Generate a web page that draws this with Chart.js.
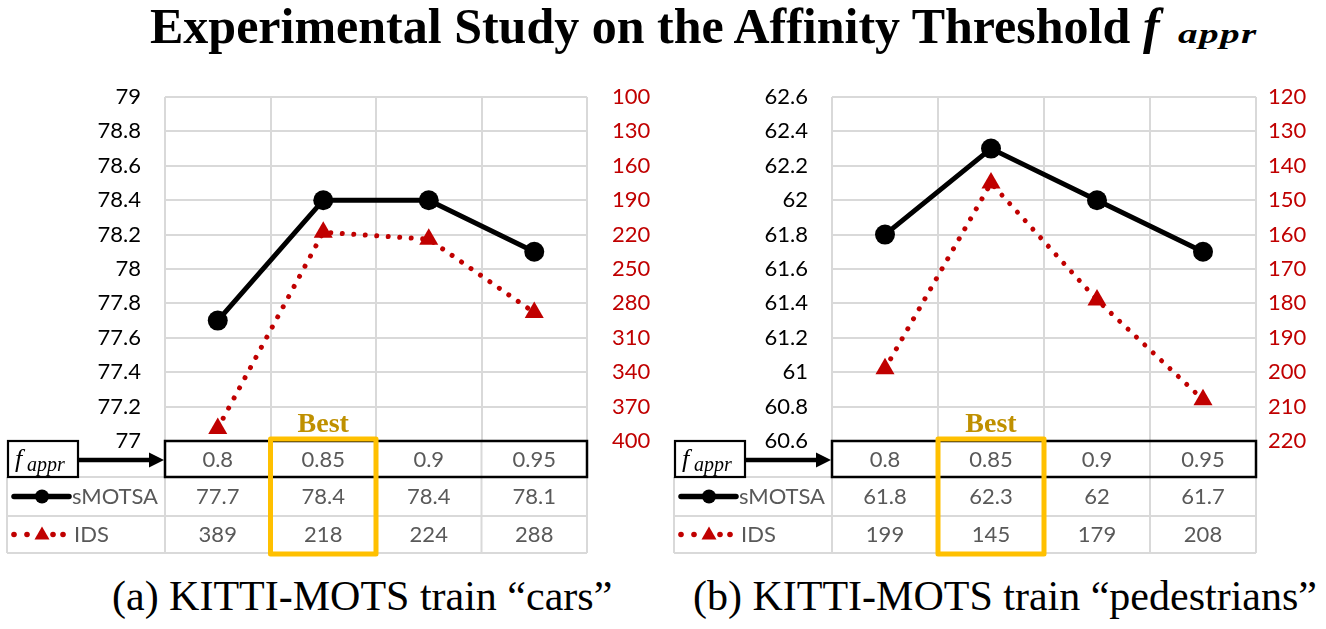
<!DOCTYPE html>
<html>
<head>
<meta charset="utf-8">
<script src="https://cdn.jsdelivr.net/npm/chart.js@4.4.1/dist/chart.umd.min.js"></script>
<style>
  html, body { margin: 0; padding: 0; background: #fff; }
  body { width: 1326px; height: 629px; position: relative; overflow: hidden; }
  canvas { position: absolute; }
  .t { position: absolute; white-space: nowrap; font-family: 'Liberation Serif', 'Times New Roman', serif;
       font-weight: bold; color: #000; }
  #title { left: 150px; top: 1px; font-size: 50px; line-height: 50px; }
  #tf { left: 1143px; top: 1px; font-size: 50px; line-height: 50px; font-style: italic; }
  #tsub { left: 1178px; top: 9px; font-size: 27px; line-height: 50px; font-style: italic; letter-spacing: 1px;
          transform: scaleX(1.45); transform-origin: 0 0; }
  .cap { position: absolute; top: 573px; white-space: nowrap;
         font-family: 'Liberation Serif', 'Times New Roman', serif; font-size: 42px; line-height: 46px; color: #000; }
</style>
</head>
<body>
<div id="title" class="t">Experimental Study on the Affinity Threshold</div>
<div id="tf" class="t">f</div>
<div id="tsub" class="t">appr</div>
<canvas id="c1" width="660" height="480" style="left:0px;top:80px"></canvas>
<canvas id="c2" width="666" height="480" style="left:660px;top:80px"></canvas>
<div class="cap" style="left:112px">(a) KITTI-MOTS train “cars”</div>
<div class="cap" style="left:693px">(b) KITTI-MOTS train “pedestrians”</div>
<script>
const categories = ['0.8', '0.85', '0.9', '0.95'];
const carsSMOTSA = [77.7, 78.4, 78.4, 78.1];
const carsIDS = [389, 218, 224, 288];
const pedSMOTSA = [61.8, 62.3, 62, 61.7];
const pedIDS = [199, 145, 179, 208];
const carsLeftTicks = [77, 77.2, 77.4, 77.6, 77.8, 78, 78.2, 78.4, 78.6, 78.8, 79];
const carsRightTicks = [100, 130, 160, 190, 220, 250, 280, 310, 340, 370, 400];
const pedLeftTicks = [60.6, 60.8, 61, 61.2, 61.4, 61.6, 61.8, 62, 62.2, 62.4, 62.6];
const pedRightTicks = [120, 130, 140, 150, 160, 170, 180, 190, 200, 210, 220];
const seriesNames = ['sMOTSA', 'IDS'];
const bestIndex = 1;

const RED = '#C00000';
const GRID = '#d9d9d9';
const GRAYTXT = '#595959';
const SANS = "Lato, 'Liberation Sans', sans-serif";
const SERIF = "'Liberation Serif', 'Times New Roman', serif";

function line(ctx, x0, y0, x1, y1) { ctx.beginPath(); ctx.moveTo(x0, y0); ctx.lineTo(x1, y1); ctx.stroke(); }

const tablePlugin = {
  id: 'dataTable',
  afterDraw(chart) {
    const ctx = chart.ctx, xs = chart.scales.x, a = chart.chartArea;
    const n = chart.data.labels.length;
    const step = xs.getPixelForValue(1) - xs.getPixelForValue(0);
    const bounds = [];
    for (let i = 0; i <= n; i++) bounds.push(xs.getPixelForValue(0) - step / 2 + i * step);
    const top = a.bottom, r1 = top + 36, r2 = r1 + 39, r3 = r2 + 37;
    const colL = a.left - 158;
    ctx.save();
    // gray table lines
    ctx.strokeStyle = GRID; ctx.lineWidth = 2;
    bounds.forEach(b => line(ctx, b, top, b, r3));
    line(ctx, colL, r1, colL, r3);
    [r1, r2, r3].forEach(y => line(ctx, colL, y, a.right, y));
    // black box around first row
    ctx.strokeStyle = '#000'; ctx.lineWidth = 2.5;
    ctx.strokeRect(a.left, top, a.right - a.left, r1 - top);
    // f_appr box
    ctx.lineWidth = 2.2;
    const fbR = colL + 71;
    ctx.strokeRect(colL + 1, top, 70, r1 - top);
    ctx.fillStyle = '#000';
    ctx.textAlign = 'left'; ctx.textBaseline = 'alphabetic';
    ctx.font = 'italic 26px ' + SERIF;
    ctx.fillText('f', colL + 8, top + 26);
    ctx.font = 'italic 20px ' + SERIF;
    ctx.fillText('appr', colL + 20, top + 30);
    // arrow
    const ym = (top + r1) / 2 + 1;
    ctx.lineWidth = 4.5;
    line(ctx, fbR, ym, a.left - 12, ym);
    ctx.beginPath(); ctx.moveTo(a.left - 16, ym - 7.5); ctx.lineTo(a.left - 1, ym); ctx.lineTo(a.left - 16, ym + 7.5); ctx.closePath(); ctx.fill();
    // legend entries
    const y2 = (r1 + r2) / 2, y3 = (r2 + r3) / 2;
    ctx.strokeStyle = '#000'; ctx.lineWidth = 5.5; ctx.lineCap = 'round';
    line(ctx, colL + 7, y2, colL + 62, y2);
    ctx.beginPath(); ctx.arc(colL + 35, y2, 7, 0, Math.PI * 2); ctx.fill();
    ctx.fillStyle = RED;
    [colL + 7, colL + 20, colL + 46, colL + 56].forEach(x => { ctx.beginPath(); ctx.arc(x, y3, 2.8, 0, Math.PI * 2); ctx.fill(); });
    ctx.beginPath(); ctx.moveTo(colL + 35, y3 - 8); ctx.lineTo(colL + 42.5, y3 + 5); ctx.lineTo(colL + 27.5, y3 + 5); ctx.closePath(); ctx.fill();
    ctx.fillStyle = GRAYTXT; ctx.font = '22px ' + SANS; ctx.textBaseline = 'middle';
    ctx.fillText(seriesNames[0], colL + 65, y2);
    ctx.fillText(seriesNames[1], colL + 67, y3);
    // values
    ctx.textAlign = 'center';
    chart.data.labels.forEach((l, i) => {
      const cx = xs.getPixelForValue(i);
      ctx.fillText(l, cx, ym);
      ctx.fillText(String(chart.data.datasets[0].data[i]), cx, y2);
      ctx.fillText(String(chart.data.datasets[1].data[i]), cx, y3);
    });
    // best box
    ctx.strokeStyle = '#FFC000'; ctx.lineWidth = 5; ctx.lineJoin = 'round';
    const bx0 = bounds[bestIndex], bx1 = bounds[bestIndex + 1];
    ctx.strokeRect(bx0, top - 2, bx1 - bx0, r3 - top + 3);
    ctx.fillStyle = '#BF9000'; ctx.font = 'bold 28px ' + SERIF; ctx.textBaseline = 'alphabetic';
    ctx.fillText('Best', xs.getPixelForValue(bestIndex), top - 9);
    ctx.restore();
  }
};

function makeChart(id, smotsa, ids, leftTicks, rightTicks, leftW, rightW, rightPad) {
  const fixTicks = arr => axis => { axis.ticks = arr.map(v => ({ value: v })); };
  const fixFit = w => s => { s.width = w; s.paddingTop = 0; s.paddingBottom = 0; };
  return new Chart(document.getElementById(id), {
    type: 'line',
    data: {
      labels: categories,
      datasets: [
        { label: seriesNames[0], data: smotsa, yAxisID: 'y', borderColor: '#000', backgroundColor: '#000',
          borderWidth: 5, pointRadius: 10, pointHoverRadius: 10, pointBorderWidth: 0, pointStyle: 'circle', tension: 0 },
        { label: seriesNames[1], data: ids, yAxisID: 'y2', borderColor: RED, backgroundColor: RED,
          borderWidth: 5, borderDash: [0.01, 11.5], borderCapStyle: 'round', pointRadius: 11, pointHoverRadius: 11,
          pointBorderWidth: 0, pointStyle: 'triangle', tension: 0 }
      ]
    },
    options: {
      responsive: false, animation: false, devicePixelRatio: 1,
      layout: { padding: { left: 0, right: 0, top: 17, bottom: 119 } },
      plugins: { legend: { display: false }, tooltip: { enabled: false } },
      scales: {
        x: { type: 'category', offset: true,
             grid: { display: true, offset: true, color: GRID, lineWidth: 2, drawTicks: false },
             border: { display: false }, ticks: { display: false } },
        y: { position: 'left', min: leftTicks[0], max: leftTicks[leftTicks.length - 1],
             afterBuildTicks: fixTicks(leftTicks), afterFit: fixFit(leftW),
             grid: { color: GRID, lineWidth: 2, drawTicks: false }, border: { display: false },
             ticks: { padding: 24, color: '#000', font: { family: SANS, size: 22 }, callback: v => String(v) } },
        y2: { position: 'right', reverse: true, min: rightTicks[0], max: rightTicks[rightTicks.length - 1],
              afterBuildTicks: fixTicks(rightTicks), afterFit: fixFit(rightW),
              grid: { display: false, drawTicks: false }, border: { display: false },
              ticks: { padding: rightPad, color: RED, font: { family: SANS, size: 22 }, callback: v => String(v) } }
      }
    },
    plugins: [tablePlugin]
  });
}

makeChart('c1', carsSMOTSA, carsIDS, carsLeftTicks, carsRightTicks, 165, 73, 25);
makeChart('c2', pedSMOTSA, pedIDS, pedLeftTicks, pedRightTicks, 172, 70, 12);
</script>
</body>
</html>
